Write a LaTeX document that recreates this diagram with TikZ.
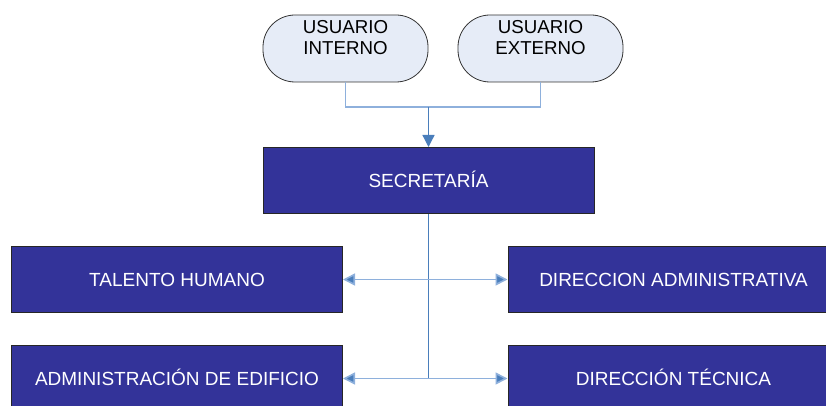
\documentclass[tikz,border=0pt]{standalone}
\usepackage{fontspec}
\setmainfont{Liberation Sans}
\usetikzlibrary{arrows.meta}
\definecolor{boxfill}{HTML}{333399}
\definecolor{userfill}{HTML}{E6ECF7}
\definecolor{linkdark}{HTML}{4A7EBB}
\definecolor{linklight}{HTML}{8EB0DC}
\begin{document}
\begin{tikzpicture}[x=1pt,y=-1pt,
  orgbox/.style={draw=black!85,line width=1pt,fill=boxfill,text=white,
    minimum width=331pt,minimum height=66pt,inner sep=0pt,
    text height=13.6pt,text depth=0pt,
    font=\fontsize{19}{22}\selectfont},
  userbox/.style={draw=black!80,line width=0.8pt,fill=userfill,
    rounded corners=32pt,minimum width=165pt,minimum height=67pt,inner sep=0pt},
  usertext/.style={align=center,font=\fontsize{18.7}{21.5}\selectfont,inner sep=0pt},
  feed/.style={draw=linklight,line width=1.3pt},
  bus/.style={draw=linkdark,line width=1.3pt},
  tip/.style={-{Triangle[length=12pt,width=12pt]},draw=linkdark,line width=1.3pt},
  twotip/.style={{Triangle[length=12pt,width=12pt,fill=linkdark]}-{Triangle[length=12pt,width=12pt,fill=linkdark]},
    draw=linklight,line width=1.6pt,color=linklight},
]
\useasboundingbox (0,0) rectangle (826,406);
\clip (0,0) rectangle (826,406);

\node[userbox] (ui) at (345.5,48.5) {};
\node[usertext] (uit) at (345.5,37.5) {USUARIO\\INTERNO};
\node[userbox] (ue) at (540.5,48.5) {};
\node[usertext] (uet) at (540.5,37.5) {USUARIO\\EXTERNO};

\node[orgbox] (sec) at (428.5,180.5) {SECRETARÍA};
\node[orgbox] (th) at (177,279.5) {TALENTO HUMANO};
\node[orgbox] (da) at (673.5,279.5) {DIRECCION ADMINISTRATIVA};
\node[orgbox] (ae) at (177,378.5) {ADMINISTRACIÓN DE EDIFICIO};
\node[orgbox] (dt) at (673.5,378.5) {DIRECCIÓN TÉCNICA};

\coordinate (j) at (428.5,107);
\draw[feed] (ui.south) |- (j) -| (ue.south);
\draw[tip] (j) -- (sec.north);

\coordinate (b2) at (sec.south |- ae.east);
\draw[bus] (sec.south) -- (b2);
\draw[twotip] (th.east) -- (da.west);
\draw[twotip] (ae.east) -- (dt.west);
\end{tikzpicture}
\end{document}
